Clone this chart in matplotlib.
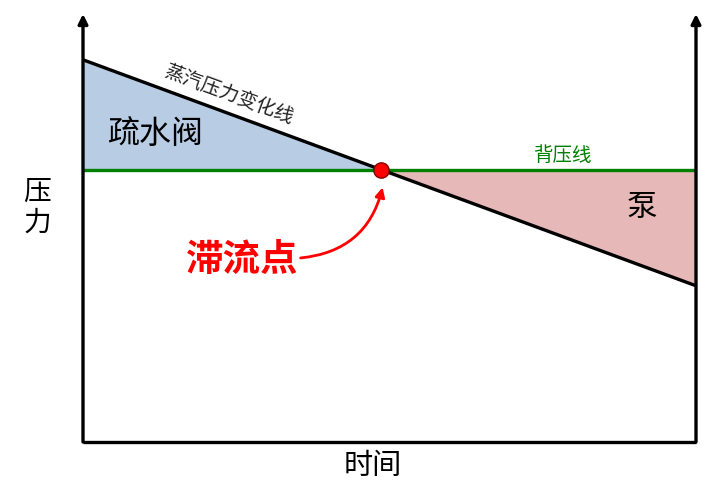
import matplotlib
matplotlib.use("Agg")
import matplotlib.pyplot as plt
import numpy as np

plt.rcParams['font.family'] = ['Noto Sans CJK SC', 'DejaVu Sans']

# data
time = [0.0, 10.0]
steam_pressure = [8.93, 3.65]
back_pressure = [6.36, 6.36]

fig = plt.figure(figsize=(7.11, 5.02), dpi=100)
W, H = 711, 502
ax = fig.add_axes([83 / W, 1 - 443 / H, (696 - 83) / W, (443 - 15) / H])
ax.set_xlim(0, 10)
ax.set_ylim(0, 10)
ax.set_xticks([])
ax.set_yticks([])
for s in ['top', 'left', 'right']:
    ax.spines[s].set_visible(False)
ax.spines['bottom'].set_linewidth(2.4)
ax.spines['bottom'].set_capstyle('butt')

# axis arrows
for xf in (0, 1):
    ax.annotate('', xy=(xf, 1.0), xytext=(xf, 0.0), xycoords='axes fraction',
                arrowprops=dict(arrowstyle='-|>', lw=2.4, color='black',
                                mutation_scale=14, shrinkA=0, shrinkB=0))

t = np.array(time)
sp = np.array(steam_pressure)
bp = np.array(back_pressure)
# intersection
slope = (sp[1] - sp[0]) / (t[1] - t[0])
tx = t[0] + (bp[0] - sp[0]) / slope
tt = np.array([t[0], tx, t[1]])
spp = np.interp(tt, t, sp)
bpp = np.interp(tt, t, bp)

ax.fill_between(tt, spp, bpp, where=tt <= tx + 1e-9, color='#b8cce4', lw=0)
ax.fill_between(tt, spp, bpp, where=tt >= tx - 1e-9, color='#e6b9b8', lw=0)

ax.plot(t, bp, color='#008000', lw=2.4, solid_capstyle='butt')
ax.plot(t, sp, color='black', lw=2.4, solid_capstyle='butt')
ax.plot([tx], [bp[0]], 'o', ms=11, mfc='#ff0000', mec='#800000', mew=1, zorder=5)

# labels
ang = np.degrees(np.arctan((287 - 61) / 613))
ax.text(2.37, 8.13, '蒸汽压力变化线', rotation=-ang, rotation_mode='anchor',
        ha='center', va='center', fontsize=14, color='#222222')
ax.text(1.18, 7.2, '疏水阀', fontsize=23, ha='center', va='center', color='black')
ax.text(7.83, 6.72, '背压线', fontsize=14, ha='center', va='center', color='#008000')
ax.text(9.12, 5.5, '泵', fontsize=22, ha='center', va='center', color='black')
ax.text(2.59, 4.28, '滞流点', fontsize=27, fontweight='bold', ha='center', va='center',
        color='#ff0000')
ax.annotate('', xy=(tx + 0.02, 5.95), xytext=(3.55, 4.3),
            arrowprops=dict(arrowstyle='-|>', lw=2, color='#ff0000',
                            mutation_scale=14, shrinkA=0, shrinkB=0,
                            connectionstyle='arc3,rad=0.35'))

fig.text(37 / W, 1 - 207 / H, '压\n力', fontsize=20, ha='center', va='center',
         linespacing=1.05)
fig.text(373 / W, 1 - 466 / H, '时间', fontsize=21, ha='center', va='center')

fig.savefig('out.png', dpi=100)
